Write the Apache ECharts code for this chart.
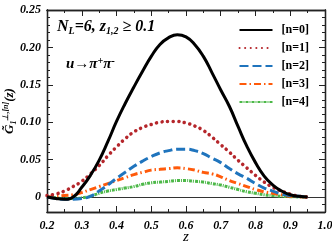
<!DOCTYPE html>
<html><head><meta charset="utf-8">
<script src="https://cdn.jsdelivr.net/npm/echarts@6/dist/echarts.min.js"></script>
<style>html,body{margin:0;padding:0;background:#fff}#c{width:332px;height:249px}</style>
</head><body><div id="c"></div>
<script>
const z  = [0.2,0.225,0.25,0.275,0.3,0.325,0.35,0.375,0.4,0.425,0.45,0.475,0.5,0.525,0.55,0.575,0.6,0.625,0.65,0.675,0.7,0.725,0.75,0.775,0.8,0.825,0.85,0.875,0.9,0.925,0.95];
const n0 = [0,-0.002,-0.003,0.000,0.013,0.029,0.049,0.074,0.101,0.125,0.147,0.168,0.188,0.204,0.213,0.217,0.214,0.204,0.188,0.166,0.143,0.121,0.094,0.068,0.046,0.028,0.016,0.008,0.003,0.001,0];
const n1 = [0.002,0.004,0.008,0.014,0.021,0.031,0.042,0.055,0.067,0.078,0.087,0.093,0.097,0.100,0.101,0.101,0.099,0.095,0.089,0.080,0.070,0.060,0.049,0.039,0.029,0.020,0.013,0.008,0.004,0.001,0];
const n2 = [0,-0.002,-0.003,-0.003,-0.002,0.001,0.008,0.016,0.025,0.033,0.041,0.048,0.054,0.059,0.062,0.064,0.064,0.062,0.058,0.052,0.046,0.038,0.031,0.025,0.018,0.012,0.008,0.004,0.002,0.001,0];
const n3 = [0,0.001,0.002,0.003,0.006,0.010,0.014,0.018,0.022,0.026,0.030,0.033,0.036,0.037,0.038,0.039,0.038,0.036,0.033,0.031,0.027,0.022,0.018,0.014,0.010,0.007,0.005,0.003,0.001,0.0005,0];
const n4 = [0,-0.001,-0.002,-0.002,-0.001,0.001,0.005,0.008,0.010,0.012,0.014,0.017,0.019,0.020,0.021,0.022,0.022,0.021,0.020,0.018,0.016,0.013,0.010,0.007,0.005,0.003,0.002,0.001,0.0005,0.0002,0];
const names = ['[n=0]','[n=1]','[n=2]','[n=3]','[n=4]'];
const xTicks = [0.2,0.3,0.4,0.5,0.6,0.7,0.8,0.9,1.0];
const yTicks = [0,0.05,0.10,0.15,0.20,0.25];

const F = 'Liberation Serif';
const chart = echarts.init(document.getElementById('c'), null, {renderer:'canvas'});
const grid = {left:47, right:7, top:10, bottom:37, outerBoundsMode:'none', containLabel:false};
const lbl = {fontFamily:F, fontStyle:'italic', fontWeight:'bold', fontSize:12, color:'#000'};
const yMinorVals = []; for (let k=-2;k<=25;k++) yMinorVals.push(+(k*0.01).toFixed(2));
const xMinorVals = []; for (let k=4;k<=20;k++) xMinorVals.push(+(k*0.05).toFixed(2));
function yAx(pos, major, showLabel){
  return {type:'value', position:pos, min:-0.02, max:0.25, splitLine:{show:false},
    axisLine:{show:true, onZero:false, lineStyle:{color:'#222', width:1.3}},
    axisTick:{show:true, inside:true, length: major?6:3, customValues: major?yTicks:yMinorVals, lineStyle:{color:'#222'}},
    axisLabel:{show:showLabel, customValues:yTicks, margin:6, ...lbl,
      formatter:v=> Math.abs(v)<1e-9 ? '0' : v.toFixed(2)},
    name: showLabel ? '{a|G̃}{b|1}{c|⊥,[n]}{a|(z)}' : '',
    nameLocation:'middle', nameGap:29, nameRotate:90, nameMoveOverlap:false,
    nameTextStyle:{rich:{
      a:{fontFamily:F, fontStyle:'italic', fontWeight:'bold', fontSize:13, color:'#000'},
      b:{fontFamily:F, fontStyle:'italic', fontWeight:'bold', fontSize:8, color:'#000', padding:[8,0,0,0]},
      c:{fontFamily:F, fontStyle:'italic', fontWeight:'bold', fontSize:8, color:'#000', padding:[0,0,8,0]}
    }}};
}
function xAx(pos, major, showLabel){
  return {type:'value', position:pos, min:0.2, max:1.0, splitLine:{show:false},
    axisLine:{show:true, onZero:false, lineStyle:{color:'#222', width:1.3}},
    axisTick:{show:true, inside:true, length: major?6:3, customValues: major?xTicks:xMinorVals, lineStyle:{color:'#222'}},
    axisLabel:{show:showLabel, customValues:xTicks, margin:8, ...lbl, formatter:v=>v.toFixed(1)},
    name: showLabel ? 'z' : '', nameLocation:'middle', nameGap:18, nameMoveOverlap:false,
    nameTextStyle:{fontFamily:F, fontStyle:'italic', fontSize:15, color:'#000'}};
}
const styles = [
  {color:'#000000', width:3, type:'solid'},
  {color:'#b5262b', width:3.5, type:[0.1,5.5], cap:'round'},
  {color:'#1f74bd', width:3, type:[9,4]},
  {color:'#ff5a0a', width:3, type:[7,3,1.5,3]},
  {color:'#4cb848', width:3, type:[3,1,1,1]}
];
const data = [n0,n1,n2,n3,n4];
const series = data.map((arr,i)=>({
  name:names[i], type:'line', smooth:true, symbol:'none', showSymbol:false, xAxisIndex:0, yAxisIndex:0,
  data: z.map((x,j)=>[x, arr[j]]), lineStyle: styles[i], itemStyle:{color:styles[i].color, opacity:0},
  z: 10-i
}));
series.push({type:'line', data:[], xAxisIndex:0, yAxisIndex:0, silent:true,
  markLine:{silent:true, symbol:'none', label:{show:false}, lineStyle:{color:'#333', width:1, type:'solid'}, data:[{yAxis:0}]}});
chart.setOption({
  animation:false,
  grid: grid,
  title:[
    {left:52, top:13, text:'{t|N}{s|L}{t|=6, z}{s|1,2}{t| ≥ 0.1}',
     textStyle:{rich:{t:{fontFamily:F, fontStyle:'italic', fontWeight:'bold', fontSize:16, color:'#000'},
                      s:{fontFamily:F, fontStyle:'italic', fontWeight:'bold', fontSize:10, color:'#000', padding:[8,0,0,0]}}}},
    {left:61, top:51, text:'{t|u}{t|→}{t|π}{p|+}{t|π}{p|-}',
     textStyle:{rich:{t:{fontFamily:F, fontStyle:'italic', fontWeight:'bold', fontSize:15, color:'#000'},
                      p:{fontFamily:F, fontStyle:'italic', fontWeight:'bold', fontSize:10, color:'#000', padding:[0,0,7,0]}}}}
  ],
  legend:{right:18, top:19, orient:'vertical', itemWidth:33, itemHeight:10, itemGap:6, align:'left',
    itemStyle:{opacity:0, borderWidth:0},
    data:names, textStyle:{fontFamily:F, fontWeight:'bold', fontSize:12, color:'#000', padding:[0,0,0,4]}},
  xAxis:[xAx('bottom',true,true), xAx('bottom',false,false), xAx('top',true,false), xAx('top',false,false)],
  yAxis:[yAx('left',false,false), yAx('left',true,true), yAx('right',true,false), yAx('right',false,false)],
  series: series
});
</script></body></html>
